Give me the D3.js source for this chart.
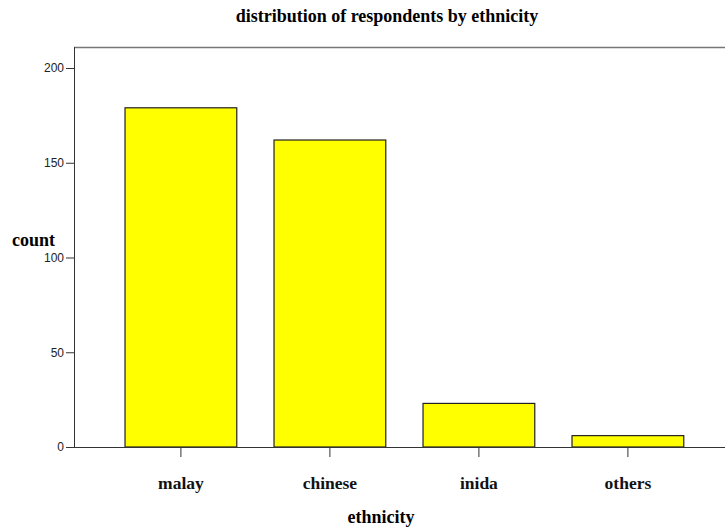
<!DOCTYPE html>
<html>
<head>
<meta charset="utf-8">
<script src="https://cdn.jsdelivr.net/npm/d3@7"></script>
<style>
  body { margin: 0; background: #fff; }
</style>
</head>
<body>
<div id="chart"></div>
<script>
// data
var ethnicities = ["malay", "chinese", "inida", "others"];
var counts = [179, 162, 23, 6];
var yTicks = [0, 50, 100, 150, 200];

var W = 725, H = 530;
var plotLeft = 74, plotTop = 47, plotBottom = 447;

var svg = d3.select("#chart").append("svg")
  .attr("width", W)
  .attr("height", H);

var x = d3.scaleBand()
  .domain(ethnicities)
  .range([106.4, 702.4])
  .paddingInner(0.25)
  .paddingOuter(0.125);

var y = d3.scaleLinear()
  .domain([0, 200])
  .range([plotBottom, 68]);

// frame (top + bottom lines run off the right edge)
svg.append("line")
  .attr("x1", plotLeft).attr("x2", W)
  .attr("y1", plotTop + 0.5).attr("y2", plotTop + 0.5)
  .attr("stroke", "#777").attr("stroke-width", 1.5);

// bars
svg.append("g")
  .selectAll("rect")
  .data(counts)
  .enter()
  .append("rect")
  .attr("x", function(d, i) { return x(ethnicities[i]); })
  .attr("y", function(d) { return y(d); })
  .attr("width", x.bandwidth())
  .attr("height", function(d) { return y(0) - y(d); })
  .attr("fill", "#ffff00")
  .attr("stroke", "#222")
  .attr("stroke-width", 1.2);

// y axis
var yAxis = svg.append("g")
  .attr("transform", "translate(" + plotLeft + ",0)")
  .call(d3.axisLeft(y).tickValues(yTicks).tickSize(8).tickPadding(2));
yAxis.select(".domain").attr("d", "M0.5," + plotTop + "V" + plotBottom).attr("stroke", "#333");
yAxis.selectAll(".tick line").attr("stroke", "#333");
yAxis.selectAll("text")
  .style("font-family", "'Liberation Sans', Arial, sans-serif")
  .style("font-size", "12px")
  .attr("fill", "#222");

// x axis
var xAxis = svg.append("g")
  .attr("transform", "translate(0," + plotBottom + ")")
  .call(d3.axisBottom(x).tickSize(10).tickPadding(20));
xAxis.select(".domain").attr("d", "M" + plotLeft + ",0.5H" + W).attr("stroke", "#333");
xAxis.selectAll(".tick line").attr("stroke", "#333");
xAxis.selectAll("text")
  .style("font-family", "'Liberation Serif', 'Times New Roman', serif")
  .style("font-size", "17.5px")
  .style("font-weight", "bold")
  .attr("fill", "#111");

// title and axis titles
svg.append("text")
  .attr("x", 387).attr("y", 22)
  .attr("text-anchor", "middle")
  .style("font-family", "'Liberation Serif', 'Times New Roman', serif")
  .style("font-size", "18px")
  .style("font-weight", "bold")
  .text("distribution of respondents by ethnicity");

svg.append("text")
  .attr("x", 381).attr("y", 523)
  .attr("text-anchor", "middle")
  .style("font-family", "'Liberation Serif', 'Times New Roman', serif")
  .style("font-size", "18px")
  .style("font-weight", "bold")
  .text("ethnicity");

svg.append("text")
  .attr("x", 12).attr("y", 246)
  .style("font-family", "'Liberation Serif', 'Times New Roman', serif")
  .style("font-size", "18px")
  .style("font-weight", "bold")
  .text("count");
</script>
</body>
</html>
